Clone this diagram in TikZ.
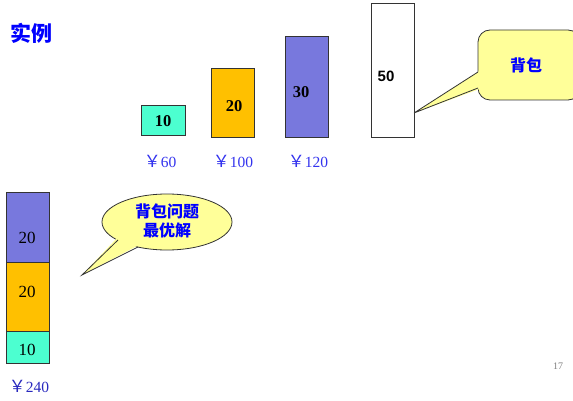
\documentclass[tikz,border=0pt]{standalone}
\usepackage{fontspec}
\setmainfont{Liberation Serif}
\newfontfamily\cjk{Noto Sans CJK SC}
\newfontfamily\arialf{Liberation Sans}
\definecolor{aquaC}{HTML}{4CFFD0}
\definecolor{orangeC}{HTML}{FFC000}
\definecolor{purpleC}{HTML}{7878DD}
\definecolor{calloutC}{HTML}{FFFF99}
\definecolor{titleC}{HTML}{0000FF}
\definecolor{priceC}{HTML}{3333EE}
\definecolor{edgeC}{HTML}{333333}
\tikzset{
  itembox/.style={draw=edgeC, line width=0.9pt},
  numtxt/.style={font=\fontsize{16.5}{18}\selectfont\bfseries, text=black, inner sep=0pt},
  stacktxt/.style={font=\fontsize{17}{19}\selectfont, text=black, inner sep=0pt},
  price/.style={font=\fontsize{15.5}{17}\selectfont, text=priceC, inner sep=0pt},
  cjktxt/.style={font=\cjk\bfseries\fontsize{16}{19}\selectfont, text=titleC, inner sep=0pt, align=center},
  calloutfill/.style={fill=calloutC},
  calloutline/.style={draw=edgeC, line width=0.8pt},
}
\newcommand{\yenmark}{{\cjk\fontsize{17}{17}\selectfont ￥}}
\begin{document}
\begin{tikzpicture}[x=1pt,y=-1pt]
\useasboundingbox (0,0) rectangle (573,401);
\clip (0,0) rectangle (573,401);
% title
\node[cjktxt, font=\cjk\bfseries\fontsize{21}{24}\selectfont] (title) at (31,33) {实例};
% items
\draw[itembox, fill=aquaC] (141,105) rectangle (185,135);
\node[numtxt] (n10) at (163,121) {10};
\draw[itembox, fill=orangeC] (211,68) rectangle (254,137);
\node[numtxt] (n20) at (234,106) {20};
\draw[itembox, fill=purpleC] (285,36) rectangle (328,137);
\node[numtxt] (n30) at (301,92) {30};
\draw[itembox, fill=white] (371,3) rectangle (414,137);
\node[numtxt, font=\arialf\bfseries\fontsize{15}{17}\selectfont] (n50) at (386,76) {50};
\coordinate (tip50) at (414,113);
% prices
\node[price] (p60) at (160,161) {\yenmark60};
\node[price] (p100) at (233,161) {\yenmark100};
\node[price] (p120) at (308,161) {\yenmark120};
% stack
\draw[itembox, fill=purpleC] (6,192) rectangle (49,262);
\draw[itembox, fill=orangeC] (6,262) rectangle (49,331);
\draw[itembox, fill=aquaC] (6,331) rectangle (49,363);
\node[stacktxt] (s20a) at (27,238) {20};
\node[stacktxt] (s20b) at (27,292) {20};
\node[stacktxt] (s10) at (27,350) {10};
\node[price, text=priceC!80!black] (p240) at (29,386) {\yenmark240};
% right callout
\draw[calloutline, calloutfill, rounded corners=12pt] (478,30) rectangle (580,100);
\fill[calloutfill] (479.5,71) -- (tip50) -- (479.5,89) -- cycle;
\draw[calloutline, line join=miter] (478,72) -- (tip50) -- (478,88);
\node[cjktxt] (bag) at (526,65) {背包};
% ellipse callout
\draw[calloutline, calloutfill] (167,222) ellipse [x radius=65, y radius=28];
\coordinate (tip2) at (82,275);
\fill[calloutfill] (117,238) -- (tip2) -- (139,245) -- (140,238) -- cycle;
\draw[calloutline] (118,240) -- (tip2) -- (138,247);
\node[cjktxt] (opt) at (167,221) {背包问题\\最优解};
% page number
\node[font=\fontsize{10}{12}\selectfont, text=gray, inner sep=0pt] (pg) at (558,366) {17};
\end{tikzpicture}
\end{document}
